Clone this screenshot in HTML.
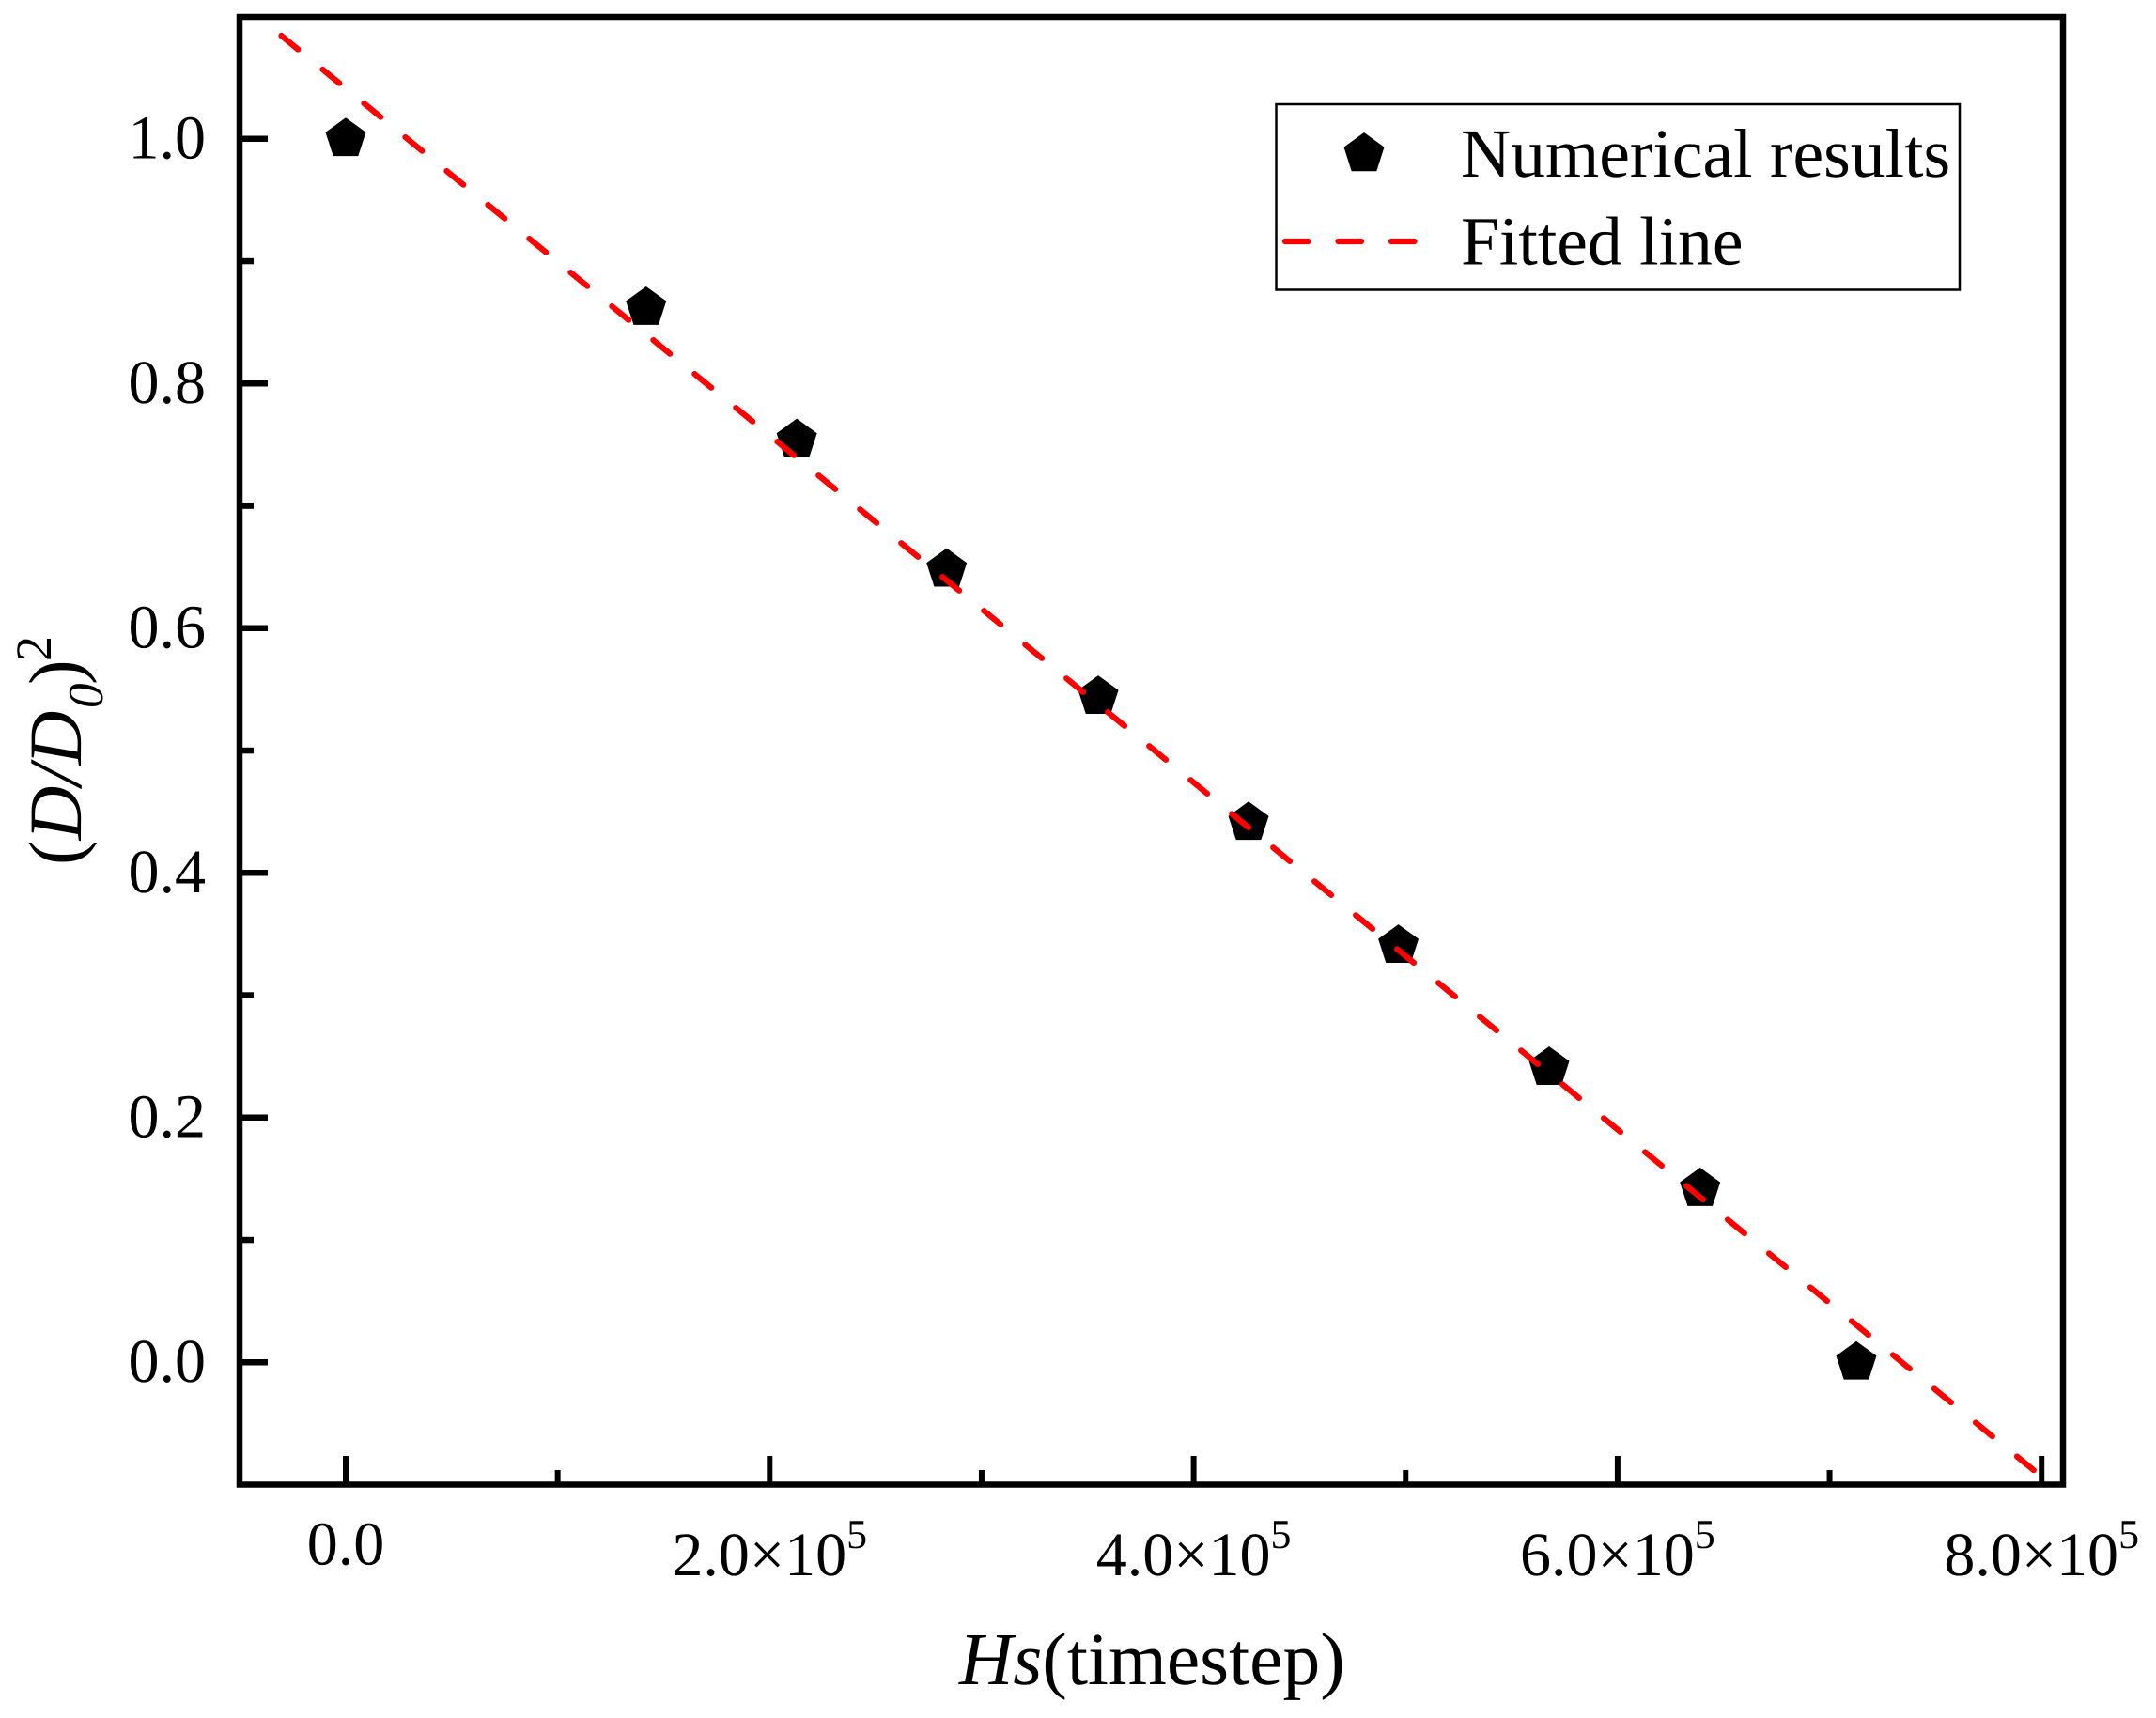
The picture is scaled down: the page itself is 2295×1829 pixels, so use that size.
<!DOCTYPE html>
<html lang="en">
<head>
<meta charset="utf-8">
<title>(D/D0)^2 versus Hs</title>
<style>
html,body{margin:0;padding:0;background:#fff;}
svg{display:block;}
text{font-family:"Liberation Serif","Times New Roman",serif;fill:#000;text-rendering:geometricPrecision;}
</style>
</head>
<body>
<svg id="chart" width="2295" height="1829" viewBox="0 0 2295 1829" xmlns="http://www.w3.org/2000/svg">
  <rect x="0" y="0" width="2295" height="1829" fill="#fff"/>
  <g id="ticks"></g>
  <g id="tick-labels"></g>
  <g id="markers"></g>
  <path id="fit" fill="none" stroke="#ff0000" stroke-width="6.2" stroke-linecap="round" stroke-dasharray="23 33.85"/>
  <rect x="255" y="18" width="1941" height="1562.5" fill="none" stroke="#000" stroke-width="6.5"/>

  <g>
    <rect x="1358.5" y="111" width="727.5" height="197.5" fill="#fff" stroke="#000" stroke-width="2.5"/>
    <polygon points="1452,141 1473.5,156.6 1465.3,182.3 1438.7,182.3 1430.5,156.6" fill="#000"/>
    <line x1="1368" y1="257" x2="1506" y2="257" stroke="#ff0000" stroke-width="6.2" stroke-linecap="round" stroke-dasharray="24.5 32"/>
    <text x="1555" y="188" font-size="73.6">Numerical results</text>
    <text x="1555" y="281.5" font-size="73.6">Fitted line</text>
  </g>

  <text x="1021" y="1793" font-size="79.5"><tspan font-style="italic">Hs</tspan>(timestep)</text>

  <g>
    <text transform="translate(86,921) rotate(-90)" font-size="80">(<tspan font-style="italic">D/D</tspan></text>
    <text transform="translate(109,754) rotate(-90)" font-size="53" font-style="italic">0</text>
    <text transform="translate(86,729) rotate(-90)" font-size="80">)</text>
    <text transform="translate(54,704) rotate(-90)" font-size="54">2</text>
  </g>
</svg>
<script>
// Chart data
const pointsX = [0, 141700, 212800, 283500, 355000, 425900, 496600, 567700, 638900, 712600];
const pointsY = [1.0, 0.862, 0.754, 0.648, 0.544, 0.441, 0.3406, 0.2408, 0.1418, 0.0];
const fitX = [-30360, 796600];
const fitY = [1.0843, -0.0886];
const xMajorTicks = [0, 200000, 400000, 600000, 800000];
const xMinorTicks = [100000, 300000, 500000, 700000];
const xTickLabels = ['0.0', '2.0×10', '4.0×10', '6.0×10', '8.0×10'];
const xTickExponents = ['', '5', '5', '5', '5'];
const yMajorTicks = [0, 0.2, 0.4, 0.6, 0.8, 1.0];
const yMinorTicks = [0.1, 0.3, 0.5, 0.7, 0.9];
const yTickLabels = ['0.0', '0.2', '0.4', '0.6', '0.8', '1.0'];

const NS = 'http://www.w3.org/2000/svg';
function xScale(v) { return 368 + v * 451.3 / 200000; }
function yScale(v) { return 1450.3 - v * 1302.5; }

const tickGroup = document.getElementById('ticks');
const labelGroup = document.getElementById('tick-labels');
const markerGroup = document.getElementById('markers');

function addTick(x1, y1, x2, y2, w, name) {
  const t = document.createElementNS(NS, 'line');
  t.setAttribute('x1', x1);
  t.setAttribute('y1', y1);
  t.setAttribute('x2', x2);
  t.setAttribute('y2', y2);
  t.setAttribute('stroke', '#000');
  t.setAttribute('stroke-width', w);
  
  
  tickGroup.appendChild(t);
}

xMajorTicks.forEach(function (v) {
  addTick(xScale(v), 1550, xScale(v), 1578, 6, 'x-major-tick');
});
xMinorTicks.forEach(function (v) {
  addTick(xScale(v), 1565, xScale(v), 1578, 6, 'x-minor-tick');
});
yMajorTicks.forEach(function (v) {
  addTick(257, yScale(v), 285, yScale(v), 6.5, 'y-major-tick');
});
yMinorTicks.forEach(function (v) {
  addTick(257, yScale(v), 270, yScale(v), 6.5, 'y-minor-tick');
});

xMajorTicks.forEach(function (v, i) {
  const t = document.createElementNS(NS, 'text');
  t.setAttribute('x', xScale(v));
  t.setAttribute('y', xTickExponents[i] ? 1677 : 1665.5);
  t.setAttribute('text-anchor', 'middle');
  t.setAttribute('font-size', '66');
  
  
  t.textContent = xTickLabels[i];
  if (xTickExponents[i]) {
    const s = document.createElementNS(NS, 'tspan');
    s.setAttribute('font-size', '44');
    s.setAttribute('dy', '-29');
    s.textContent = xTickExponents[i];
    t.appendChild(s);
  }
  labelGroup.appendChild(t);
});

yMajorTicks.forEach(function (v, i) {
  const t = document.createElementNS(NS, 'text');
  t.setAttribute('x', 219);
  t.setAttribute('y', yScale(v) + 20.5);
  t.setAttribute('text-anchor', 'end');
  t.setAttribute('font-size', '66');
  
  
  t.textContent = yTickLabels[i];
  labelGroup.appendChild(t);
});

function pentagon(cx, cy, r) {
  const pts = [];
  for (let k = 0; k < 5; k++) {
    const a = -Math.PI / 2 + k * 2 * Math.PI / 5;
    pts.push((cx + r * Math.cos(a)).toFixed(2) + ',' + (cy + r * Math.sin(a)).toFixed(2));
  }
  return pts.join(' ');
}

pointsX.forEach(function (v, i) {
  const p = document.createElementNS(NS, 'polygon');
  p.setAttribute('points', pentagon(xScale(v), yScale(pointsY[i]), 22.6));
  p.setAttribute('fill', '#000');
  
  
  markerGroup.appendChild(p);
});

const fitPath = document.getElementById('fit');
fitPath.setAttribute('d', fitX.map(function (v, i) {
  return (i ? 'L' : 'M') + xScale(v).toFixed(2) + ' ' + yScale(fitY[i]).toFixed(2);
}).join(' '));
</script>
</body>
</html>
